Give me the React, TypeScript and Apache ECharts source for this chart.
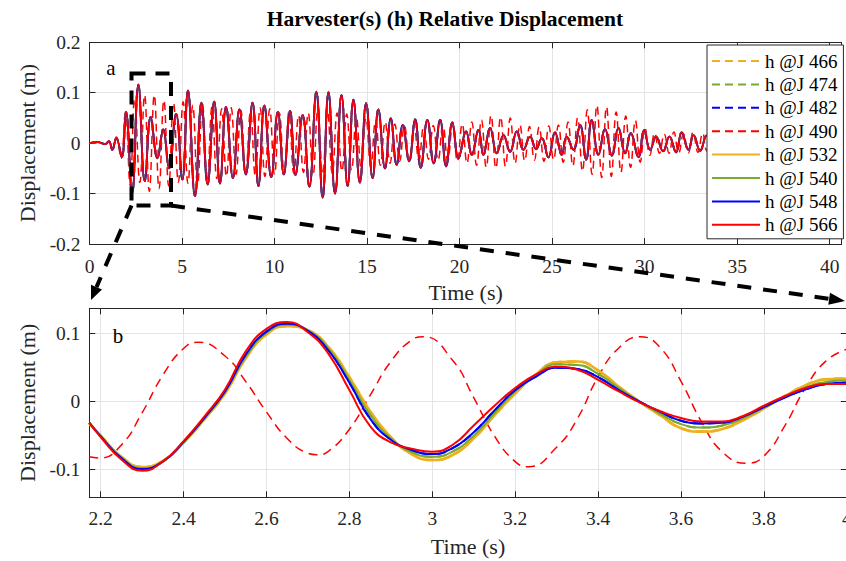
import React, { useEffect, useRef } from "react";
import * as echarts from "echarts";

// ---------- data ----------
const seriesNames = ["h @J 466", "h @J 474", "h @J 482", "h @J 490", "h @J 532", "h @J 540", "h @J 548", "h @J 566"];
const seriesColors = ["#EDB120", "#77AC30", "#0000FF", "#FF0000", "#EDB120", "#77AC30", "#0000FF", "#FF0000"];
const seriesDashed = [true, true, true, true, false, false, false, false];

// panel a: extrema of the harvester group (J 466..482, 532..566 nearly identical)
const topGroupT = [0, 0.45, 0.85, 1.05, 1.23, 1.45, 1.74, 1.97, 2.3, 2.64, 2.99, 3.31, 3.67, 3.98, 4.3, 4.68, 5.02, 5.32, 5.7, 6.05, 6.38, 6.74, 7.05, 7.38, 7.75, 8.1, 8.45, 8.81, 9.13, 9.45, 9.82, 10.18, 10.5, 10.84, 11.13, 11.52, 11.88, 12.26, 12.6, 12.91, 13.27, 13.62, 13.95, 14.26, 14.61, 14.95, 15.3, 15.61, 15.97, 16.28, 16.6, 16.93, 17.27, 17.6, 17.9, 18.26, 18.6, 18.95, 19.27, 19.61, 19.94, 20.35, 20.66, 21.02, 21.29, 21.65, 22.01, 22.37, 22.73, 23.09, 23.45, 23.81, 24.13, 24.44, 24.8, 25.16, 25.52, 25.79, 26.15, 26.51, 26.84, 27.14, 27.5, 27.86, 28.23, 28.58, 28.95, 29.25, 29.67, 29.97, 30.3, 30.62, 31.0, 31.34, 31.7, 32.0, 32.37, 32.64, 33.0, 33.35, 33.7, 34.1, 36.0, 38.0, 40.65];
const topGroupV = [0, 0.002, -0.002, 0.004, -0.013, 0.01, -0.028, 0.062, -0.1, 0.116, -0.075, 0.052, -0.03, 0.027, -0.05, 0.058, -0.072, 0.104, -0.105, 0.08, -0.082, 0.082, -0.08, 0.072, -0.069, 0.067, -0.062, 0.08, -0.085, 0.075, -0.067, 0.062, -0.062, 0.064, -0.063, 0.056, -0.086, 0.102, -0.108, 0.101, -0.1, 0.095, -0.085, 0.086, -0.078, 0.079, -0.069, 0.067, -0.05, 0.049, -0.043, 0.036, -0.036, 0.047, -0.049, 0.046, -0.04, 0.046, -0.046, 0.041, -0.03, 0.023, -0.023, 0.026, -0.023, 0.03, -0.02, 0.016, -0.017, 0.023, -0.013, 0.013, -0.012, 0.01, -0.028, 0.021, -0.023, 0.013, -0.013, 0.036, -0.033, 0.046, -0.023, 0.028, -0.025, 0.03, -0.02, 0.02, -0.028, 0.026, -0.013, 0.013, -0.016, 0.013, -0.018, 0.021, -0.013, 0.016, -0.015, 0.015, -0.012, 0.01, -0.006, 0.004, 0];

// panel a: extrema of J 490
const top490T = [0, 0.45, 0.85, 1.05, 1.23, 1.45, 1.7, 1.94, 2.198, 2.435, 2.721, 2.978, 3.232, 3.501, 3.758, 4.02, 4.28, 4.54, 4.8, 5.06, 5.32, 5.58, 5.84, 6.1, 6.36, 6.62, 6.88, 7.14, 7.4, 7.66, 7.92, 8.18, 8.44, 8.7, 8.96, 9.22, 9.48, 9.74, 10.0, 10.26, 10.52, 10.78, 11.04, 11.3, 11.56, 11.82, 12.08, 12.34, 12.6, 12.86, 13.12, 13.38, 13.64, 13.9, 14.16, 14.42, 14.68, 14.94, 15.2, 15.46, 15.72, 15.98, 16.24, 16.5, 16.76, 17.02, 17.28, 17.54, 17.8, 18.06, 18.32, 18.58, 18.84, 19.1, 19.36, 19.62, 19.88, 20.14, 20.4, 20.66, 20.92, 21.18, 21.44, 21.7, 21.96, 22.22, 22.48, 22.74, 23.0, 23.26, 23.52, 23.78, 24.04, 24.3, 24.56, 24.82, 25.08, 25.34, 25.6, 25.86, 26.12, 26.38, 26.64, 26.9, 27.16, 27.42, 27.68, 27.94, 28.2, 28.46, 28.72, 28.98, 29.24, 29.5, 29.76, 30.02, 30.28, 30.54, 30.8, 31.06, 31.32, 31.58, 31.84, 32.1, 32.36, 32.62, 32.88, 33.14, 33.4, 34.0, 36.0, 38.0, 40.65];
const top490V = [0, 0.002, -0.002, 0.004, -0.012, 0.012, -0.03, 0.06, -0.083, 0.0873, -0.078, 0.0956, -0.0956, 0.0956, -0.0906, 0.085, -0.085, 0.08, -0.078, 0.082, -0.08, 0.075, -0.082, 0.078, -0.075, 0.072, -0.07, 0.068, -0.066, 0.07, -0.062, 0.065, -0.06, 0.062, -0.065, 0.07, -0.066, 0.068, -0.062, 0.06, -0.058, 0.062, -0.06, 0.055, -0.058, 0.06, -0.064, 0.066, -0.062, 0.064, -0.06, 0.06, -0.056, 0.058, -0.054, 0.052, -0.05, 0.05, -0.046, 0.045, -0.044, 0.042, -0.04, 0.038, -0.036, 0.035, -0.034, 0.036, -0.035, 0.034, -0.032, 0.035, -0.034, 0.036, -0.035, 0.034, -0.036, 0.038, -0.04, 0.042, -0.044, 0.046, -0.048, 0.055, -0.05, 0.052, -0.046, 0.05, -0.04, 0.036, -0.035, 0.033, -0.034, 0.032, -0.036, 0.034, -0.033, 0.036, -0.038, 0.042, -0.045, 0.05, -0.056, 0.066, -0.062, 0.075, -0.068, 0.072, -0.066, 0.062, -0.058, 0.054, -0.048, 0.045, -0.038, 0.03, -0.024, 0.02, -0.02, 0.018, -0.02, 0.022, -0.02, 0.018, -0.02, 0.022, -0.018, 0.02, -0.016, 0.01, -0.005, 0.004, 0];

// panel b: zoom 2.17 s .. 4 s
const zoomT = [2.1726, 2.2, 2.25, 2.3, 2.35, 2.4, 2.45, 2.5, 2.55, 2.6, 2.65, 2.7, 2.75, 2.8, 2.85, 2.9, 2.95, 3.0, 3.05, 3.1, 3.15, 3.2, 3.25, 3.3, 3.35, 3.4, 3.45, 3.5, 3.55, 3.6, 3.65, 3.7, 3.75, 3.8, 3.85, 3.9, 3.95, 4.0];
const zoomJ532 = [-0.032, -0.05, -0.081, -0.096, -0.087, -0.06, -0.026, 0.012, 0.064, 0.099, 0.111, 0.105, 0.08, 0.036, -0.014, -0.052, -0.077, -0.0857, -0.078, -0.054, -0.02, 0.012, 0.04, 0.058, 0.059, 0.046, 0.022, 0.0, -0.02, -0.039, -0.044, -0.04, -0.027, -0.01, 0.008, 0.024, 0.033, 0.034];
const zoomJ540 = [-0.031, -0.05, -0.082, -0.098, -0.088, -0.06, -0.025, 0.014, 0.066, 0.101, 0.113, 0.105, 0.078, 0.032, -0.019, -0.054, -0.074, -0.081, -0.073, -0.05, -0.017, 0.015, 0.039, 0.055, 0.054, 0.041, 0.02, 0.0, -0.018, -0.033, -0.038, -0.035, -0.024, -0.009, 0.007, 0.021, 0.029, 0.031];
const zoomJ548 = [-0.031, -0.051, -0.083, -0.099, -0.088, -0.059, -0.024, 0.015, 0.069, 0.103, 0.1145, 0.104, 0.075, 0.028, -0.025, -0.056, -0.071, -0.077, -0.068, -0.045, -0.013, 0.017, 0.037, 0.05, 0.048, 0.036, 0.017, 0.0, -0.015, -0.028, -0.032, -0.031, -0.022, -0.008, 0.006, 0.018, 0.026, 0.028];
const zoomJ566 = [-0.031, -0.052, -0.085, -0.1015, -0.088, -0.058, -0.022, 0.018, 0.074, 0.107, 0.117, 0.102, 0.07, 0.017, -0.036, -0.06, -0.069, -0.0735, -0.063, -0.035, -0.006, 0.02, 0.04, 0.0512, 0.047, 0.032, 0.015, -0.001, -0.014, -0.024, -0.029, -0.029, -0.021, -0.006, 0.008, 0.02, 0.026, 0.026];
const zoom490T = [2.1726, 2.198, 2.25, 2.3, 2.35, 2.4, 2.435, 2.5, 2.55, 2.6, 2.65, 2.7, 2.721, 2.75, 2.8, 2.85, 2.9, 2.95, 2.978, 3.05, 3.1, 3.15, 3.2, 3.232, 3.3, 3.35, 3.4, 3.45, 3.501, 3.55, 3.6, 3.65, 3.7, 3.758, 3.8, 3.85, 3.9, 3.95, 4.0];
const zoomJ490 = [-0.081, -0.083, -0.0636, -0.0163, 0.0389, 0.0783, 0.0873, 0.0671, 0.0297, -0.0151, -0.0541, -0.0758, -0.078, -0.0726, -0.0406, 0.0093, 0.059, 0.0906, 0.0956, 0.0601, 0.0059, -0.0504, -0.0881, -0.0956, -0.067, -0.025, 0.0366, 0.079, 0.0956, 0.0794, 0.03, -0.03, -0.074, -0.0906, -0.08, -0.036, 0.02, 0.06, 0.077];

const topTicksX = [0, 5, 10, 15, 20, 25, 30, 35, 40];

// ---------- helpers ----------
const FONT = "Liberation Serif";
const AX = "#262626";
const GRID = "#e4e4e4";
const zip = (t: number[], v: number[]) => t.map((x, i) => [x, v[i]]);
const isMult = (v: number, step: number) => Math.abs(v / step - Math.round(v / step)) < 1e-6;
const fmt = (v: number) => String(Math.round(v * 10) / 10);

function mainAxis(extra: any) {
  return {
    type: "value",
    axisLine: { show: true, onZero: false, lineStyle: { color: AX, width: 1 } },
    axisTick: { show: true, inside: true, length: 6, lineStyle: { color: AX } },
    splitLine: { show: true, lineStyle: { color: GRID, width: 1 } },
    nameTextStyle: { fontFamily: FONT, fontSize: 22, color: AX },
    ...extra,
  };
}
function mirrorAxis(extra: any) {
  return {
    type: "value",
    axisLine: { show: true, onZero: false, lineStyle: { color: AX, width: 1 } },
    axisTick: { show: true, inside: true, length: 6, lineStyle: { color: AX } },
    axisLabel: { show: false },
    splitLine: { show: false },
    ...extra,
  };
}

export default function App() {
  const ref = useRef<HTMLDivElement>(null);
  useEffect(() => {
    document.body.style.margin = "0";
    if (!ref.current) return;
    const chart = echarts.init(ref.current, undefined, { renderer: "svg" });

    const topMin = 0, topMax = 40.65;
    const zMin = 2.1726, zMax = 4.0;
    const zyMin = -0.1406, zyMax = 0.1373;

    const series: any[] = [];
    seriesNames.forEach((name, i) => {
      const dataTop = name === "h @J 490" ? zip(top490T, top490V) : zip(topGroupT, topGroupV);
      series.push({
        name,
        type: "line",
        xAxisIndex: 0,
        yAxisIndex: 0,
        data: dataTop,
        showSymbol: false,
        symbol: "none",
        smooth: 0.45,
        silent: true,
        color: seriesColors[i],
        lineStyle: {
          color: seriesColors[i],
          width: name === "h @J 566" ? 1.6 : name === "h @J 490" ? 1.5 : 1.9,
          type: seriesDashed[i] ? [8, 5] : "solid",
        },
        z: 2 + i,
      });
    });
    const zoomMap: Record<string, number[][]> = {
      "h @J 466": zip(zoomT, zoomJ532),
      "h @J 474": zip(zoomT, zoomJ540),
      "h @J 482": zip(zoomT, zoomJ548),
      "h @J 490": zip(zoom490T, zoomJ490),
      "h @J 532": zip(zoomT, zoomJ532),
      "h @J 540": zip(zoomT, zoomJ540),
      "h @J 548": zip(zoomT, zoomJ548),
      "h @J 566": zip(zoomT, zoomJ566),
    };
    seriesNames.forEach((name, i) => {
      series.push({
        name,
        type: "line",
        xAxisIndex: 2,
        yAxisIndex: 2,
        data: zoomMap[name],
        showSymbol: false,
        symbol: "none",
        smooth: 0.5,
        silent: true,
        color: seriesColors[i],
        lineStyle: {
          color: seriesColors[i],
          width: name === "h @J 490" ? 1.5 : seriesColors[i] === "#EDB120" ? 2.6 : 2,
          type: seriesDashed[i] ? [9, 6] : "solid",
        },
        z: 2 + i,
      });
    });

    const option: any = {
      animation: false,
      backgroundColor: "#ffffff",
      textStyle: { fontFamily: FONT },
      grid: [
        { left: 89.5, top: 42.3, width: 752.2, height: 201.7, containLabel: false, outerBoundsMode: "none" },
        { left: 89.3, top: 308.3, width: 757.5, height: 189, containLabel: false, outerBoundsMode: "none" },
      ],
      xAxis: [
        mainAxis({
          gridIndex: 0, position: "bottom", min: topMin, max: topMax, interval: 5,
          name: "Time (s)", nameLocation: "middle", nameGap: 37,
          axisLabel: { fontFamily: FONT, fontSize: 19.5, color: AX, margin: 12,
            formatter: (v: number) => (topTicksX.some((t) => Math.abs(t - v) < 1e-6) ? String(v) : "") },
        }),
        mirrorAxis({ gridIndex: 0, position: "top", min: topMin, max: topMax, interval: 5 }),
        mainAxis({
          gridIndex: 1, position: "bottom", min: zMin, max: zMax, splitNumber: 9,
          name: "Time (s)", nameLocation: "middle", nameGap: 38,
          axisLabel: { fontFamily: FONT, fontSize: 19.5, color: AX, margin: 11,
            formatter: (v: number) => (isMult(v, 0.2) ? fmt(v) : "") },
        }),
        mirrorAxis({ gridIndex: 1, position: "top", min: zMin, max: zMax, splitNumber: 9 }),
      ],
      yAxis: [
        mainAxis({
          gridIndex: 0, position: "left", min: -0.2, max: 0.2, interval: 0.1,
          name: "Displacement (m)", nameLocation: "middle", nameGap: 46, nameRotate: 90,
          axisLabel: { fontFamily: FONT, fontSize: 19.5, color: AX, margin: 9,
            formatter: (v: number) => (isMult(v, 0.1) ? fmt(v) : "") },
        }),
        mirrorAxis({ gridIndex: 0, position: "right", min: -0.2, max: 0.2, interval: 0.1 }),
        mainAxis({
          gridIndex: 1, position: "left", min: zyMin, max: zyMax, splitNumber: 2,
          name: "Displacement (m)", nameLocation: "middle", nameGap: 46, nameRotate: 90,
          axisLabel: { fontFamily: FONT, fontSize: 19.5, color: AX, margin: 9,
            formatter: (v: number) => (isMult(v, 0.1) ? fmt(v) : "") },
        }),
        mirrorAxis({ gridIndex: 1, position: "right", min: zyMin, max: zyMax, splitNumber: 2 }),
      ],
      legend: {
        data: seriesNames,
        orient: "vertical",
        left: 707,
        top: 45,
        padding: [6, 6, 4, 4],
        itemWidth: 48,
        itemHeight: 14,
        itemGap: 3.4,
        itemStyle: { opacity: 0, borderWidth: 0 },
        backgroundColor: "#ffffff",
        borderColor: AX,
        borderWidth: 1,
        borderRadius: 0,
        selectedMode: false,
        textStyle: { fontFamily: FONT, fontSize: 19, lineHeight: 20, color: "#000" },
        z: 20,
      },
      graphic: [
        {
          type: "text", x: 445, y: 19, z: 100,
          style: { text: "Harvester(s) (h) Relative Displacement", fontFamily: FONT, fontSize: 21.5,
            fontWeight: "bold", fill: "#000", align: "center", verticalAlign: "middle" },
        },
        { type: "text", x: 111, y: 68, z: 100,
          style: { text: "a", fontFamily: FONT, fontSize: 21, fill: "#000", align: "center", verticalAlign: "middle" } },
        { type: "text", x: 118, y: 336, z: 100,
          style: { text: "b", fontFamily: FONT, fontSize: 21, fill: "#000", align: "center", verticalAlign: "middle" } },
        { type: "rect", z: 100, shape: { x: 131.5, y: 73.5, width: 39.5, height: 132 },
          style: { fill: "none", stroke: "#000", lineWidth: 4, lineDash: [14, 10] } },
        { type: "line", z: 100, shape: { x1: 131.5, y1: 205.5, x2: 96.5, y2: 287.1 },
          style: { stroke: "#000", lineWidth: 4, lineDash: [14, 12] } },
        { type: "polygon", z: 100, shape: { points: [[91, 300], [102.0, 289.5], [91.0, 284.7]] },
          style: { fill: "#000" } },
        { type: "line", z: 100, shape: { x1: 171, y1: 205.5, x2: 829.2, y2: 298.8 },
          style: { stroke: "#000", lineWidth: 4, lineDash: [14, 12] } },
        { type: "polygon", z: 100, shape: { points: [[845, 301], [828.3, 304.7], [830.0, 292.8]] },
          style: { fill: "#000" } },
      ],
      series,
    };
    chart.setOption(option);
    return () => chart.dispose();
  }, []);
  return <div ref={ref} style={{ width: 846, height: 561 }} />;
}
